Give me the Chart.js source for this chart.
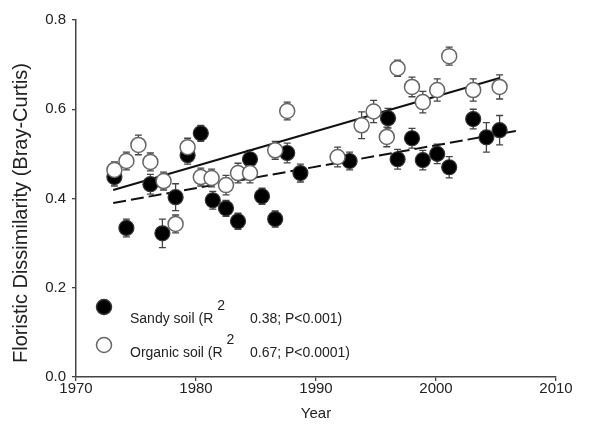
<!DOCTYPE html>
<html><head><meta charset="utf-8">
<script src="https://cdn.jsdelivr.net/npm/chart.js@4/dist/chart.umd.min.js"></script>
<style>html,body{margin:0;padding:0;background:#fff}#wrap{width:601px;height:426px}</style>
</head><body><div id="wrap"><canvas id="c" width="601" height="426"></canvas></div>
<script>
// ---- data ----
const sandyYears  = [1973.2,1974.2,1976.2,1977.2,1978.3,1979.3,1980.4,1981.4,1982.5,1983.5,1984.5,1985.5,1986.6,1987.6,1988.7,1992.8,1996.0,1996.8,1998.0,1998.9,2000.1,2001.1,2003.1,2004.2,2005.3];
const sandyValues = [0.448,0.334,0.432,0.322,0.403,0.497,0.546,0.396,0.378,0.349,0.488,0.405,0.354,0.502,0.457,0.484,0.580,0.488,0.535,0.486,0.500,0.470,0.578,0.537,0.553];
const sandyErr    = [0.020,0.020,0.022,0.032,0.030,0.020,0.018,0.020,0.018,0.018,0.020,0.018,0.018,0.022,0.020,0.020,0.022,0.022,0.022,0.022,0.022,0.024,0.022,0.033,0.033];

const organicYears  = [1973.2,1974.2,1975.2,1976.2,1977.3,1978.3,1979.3,1980.4,1981.3,1982.5,1983.5,1984.5,1986.6,1987.6,1991.8,1993.8,1994.8,1995.9,1996.8,1998.0,1998.9,2000.1,2001.1,2003.1,2005.3];
const organicValues = [0.464,0.484,0.520,0.482,0.439,0.343,0.515,0.448,0.446,0.430,0.457,0.457,0.508,0.596,0.493,0.564,0.595,0.538,0.692,0.650,0.616,0.643,0.719,0.643,0.650];
const organicErr    = [0.018,0.020,0.022,0.020,0.020,0.020,0.020,0.020,0.020,0.022,0.022,0.022,0.020,0.020,0.022,0.030,0.025,0.022,0.018,0.022,0.024,0.025,0.020,0.025,0.027];

const sandyFitYears    = [1973.1, 2006.8];
const sandyFitValues   = [0.390, 0.552];
const organicFitYears  = [1973.1, 2005.3];
const organicFitValues = [0.419, 0.670];

const xTicks = [1970, 1980, 1990, 2000, 2010];
const yTicks = [0.0, 0.2, 0.4, 0.6, 0.8];

const yTitle = 'Floristic Dissimilarity (Bray-Curtis)';
const xTitle = 'Year';
const legendItems = [
  ['Sandy soil (R', '2', '0.38; P<0.001)'],
  ['Organic soil (R', '2', '0.67; P<0.0001)']
];

// ---- chart ----
const FONT = "'Liberation Sans', Arial, Helvetica, sans-serif";
const pts = (xs, ys) => xs.map((x, i) => ({x: x, y: ys[i]}));

const styles = {
  sandy:   {fill: '#000000', stroke: '#333333'},
  organic: {fill: '#ffffff', stroke: '#666666'}
};

const errorBars = {
  id: 'errorBars',
  beforeDatasetsDraw(chart) {
    const {ctx, scales: {x, y}} = chart;
    ctx.save();
    ctx.strokeStyle = '#444';
    ctx.lineWidth = 1.3;
    chart.data.datasets.forEach(ds => {
      if (!ds.errors) return;
      ds.data.forEach((p, i) => {
        const e = ds.errors[i];
        const px = x.getPixelForValue(p.x);
        const t = y.getPixelForValue(p.y + e), b = y.getPixelForValue(p.y - e);
        ctx.beginPath();
        ctx.moveTo(px, t); ctx.lineTo(px, b);
        ctx.moveTo(px - 3.5, t); ctx.lineTo(px + 3.5, t);
        ctx.moveTo(px - 3.5, b); ctx.lineTo(px + 3.5, b);
        ctx.stroke();
      });
    });
    ctx.restore();
  }
};

const extras = {
  id: 'extras',
  afterDraw(chart) {
    const ctx = chart.ctx;
    ctx.save();
    // y axis title
    ctx.translate(21, 213);
    ctx.rotate(-Math.PI / 2);
    ctx.font = '20px ' + FONT;
    ctx.fillStyle = '#222';
    ctx.textAlign = 'center';
    ctx.textBaseline = 'middle';
    ctx.fillText(yTitle, 0, 0);
    ctx.restore();

    // legend
    ctx.save();
    const rows = [
      {st: styles.sandy,   my: 307, base: 323},
      {st: styles.organic, my: 345, base: 357}
    ];
    rows.forEach((r, i) => {
      ctx.beginPath();
      ctx.arc(104, r.my, 7.5, 0, Math.PI * 2);
      ctx.fillStyle = r.st.fill; ctx.fill();
      ctx.lineWidth = 1.5; ctx.strokeStyle = r.st.stroke; ctx.stroke();
      const [a, sup, b] = legendItems[i];
      ctx.font = '14px ' + FONT;
      ctx.fillStyle = '#222';
      ctx.textAlign = 'left';
      ctx.textBaseline = 'alphabetic';
      ctx.fillText(a, 130, r.base);
      const w = ctx.measureText(a).width;
      ctx.fillText(sup, 130 + w + 4, r.base - 13);
      ctx.fillText(b, 250, r.base);
    });
    ctx.restore();
  }
};

new Chart(document.getElementById('c'), {
  type: 'scatter',
  data: {
    datasets: [
      {type: 'line', data: pts(organicFitYears, organicFitValues), borderColor: '#111', borderWidth: 2, pointRadius: 0, fill: false, order: 5},
      {type: 'line', data: pts(sandyFitYears, sandyFitValues), borderColor: '#111', borderWidth: 2, borderDash: [13, 5], pointRadius: 0, fill: false, order: 4},
      {label: 'Sandy soil', data: pts(sandyYears, sandyValues), errors: sandyErr,
       pointRadius: 7.5, pointBackgroundColor: styles.sandy.fill, pointBorderColor: styles.sandy.stroke, pointBorderWidth: 1.2, order: 2},
      {label: 'Organic soil', data: pts(organicYears, organicValues), errors: organicErr,
       pointRadius: 7.5, pointBackgroundColor: styles.organic.fill, pointBorderColor: styles.organic.stroke, pointBorderWidth: 1.5, order: 1}
    ]
  },
  options: {
    responsive: false,
    animation: false,
    devicePixelRatio: 1,
    layout: {padding: {left: 0, top: 20, right: 45, bottom: 0}},
    plugins: {legend: {display: false}, tooltip: {enabled: false}},
    scales: {
      x: {
        type: 'linear', min: 1970, max: 2010,
        afterBuildTicks: s => { s.ticks = xTicks.map(v => ({value: v})); },
        afterFit: s => { s.height = 49; },
        ticks: {font: {family: FONT, size: 15, lineHeight: 1.0}, color: '#222', padding: 0, callback: v => String(v)},
        grid: {drawOnChartArea: false, drawTicks: true, tickLength: 4, color: '#444', lineWidth: 1.3},
        border: {color: '#444', width: 1.5},
        title: {display: true, text: xTitle, font: {family: FONT, size: 15}, color: '#222', padding: {top: 0, bottom: 3}}
      },
      y: {
        type: 'linear', min: 0, max: 0.8,
        afterBuildTicks: s => { s.ticks = yTicks.map(v => ({value: v})); },
        afterFit: s => { s.width = 76; },
        ticks: {font: {family: FONT, size: 15}, color: '#222', padding: 6, callback: v => Number(v).toFixed(1)},
        grid: {drawOnChartArea: false, drawTicks: true, tickLength: 4, color: '#444', lineWidth: 1.3},
        border: {color: '#444', width: 1.5}
      }
    }
  },
  plugins: [errorBars, extras]
});
</script>
</body></html>
